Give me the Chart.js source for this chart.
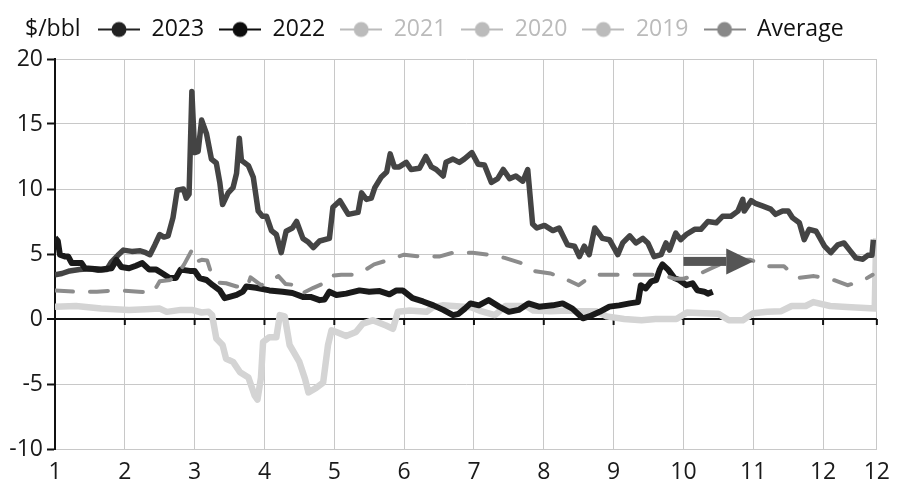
<!DOCTYPE html>
<html>
<head>
<meta charset="utf-8">
<script src="https://cdn.jsdelivr.net/npm/chart.js@4.4.1/dist/chart.umd.min.js"></script>
<style>
  html, body { margin: 0; padding: 0; background: #fff; }
</style>
</head>
<body>
<canvas id="spreadChart" width="900" height="490"></canvas>
<script>
// x positions are fractional months, 1 = start of January
const monthTicks = [1, 2, 3, 4, 5, 6, 7, 8, 9, 10, 11, 12, 12.77];

const seriesNames = ["2023", "2022", "2021", "2020", "2019", "Average"];

const m2023 = [1.00, 1.04, 1.07, 1.15, 1.19, 1.24, 1.38, 1.43, 1.66, 1.81, 1.88, 1.95, 2.06, 2.16, 2.25, 2.35, 2.45, 2.54, 2.64, 2.73,
  2.80, 2.93, 3.00, 3.07, 3.17, 3.26, 3.36, 3.43, 3.50, 3.60, 3.69, 3.74, 3.88, 4.07, 4.26, 4.40, 4.55, 4.66, 4.79, 4.86,
  4.93, 5.03, 5.17, 5.36, 5.50, 5.65, 5.79, 5.89, 5.98, 6.12, 6.27, 6.42, 6.56, 6.70, 6.78, 6.87, 6.95, 7.07, 7.21, 7.36,
  7.50, 7.64, 7.78, 7.93, 8.13, 8.27, 8.41, 8.56, 8.65, 8.80, 8.94, 9.08, 9.23, 9.35, 9.39, 9.46, 9.54, 9.61, 9.66, 9.70,
  9.78, 9.87, 9.94, 10.04, 10.13, 10.20, 10.30, 10.35, 10.42];
const v2023 = [6.25, 6.0, 4.95, 4.8, 4.8, 4.3, 4.3, 3.9, 3.8, 3.9, 4.55, 4.0, 3.9, 4.1, 4.3, 3.8, 3.8, 3.5, 3.15, 3.15,
  3.8, 3.7, 3.7, 3.15, 3.0, 2.6, 2.2, 1.6, 1.7, 1.85, 2.1, 2.5, 2.4, 2.2, 2.1, 2.0, 1.7, 1.7, 1.45, 1.5,
  2.1, 1.85, 1.95, 2.2, 2.1, 2.15, 1.9, 2.2, 2.2, 1.6, 1.35, 1.05, 0.7, 0.3, 0.4, 0.8, 1.2, 1.05, 1.45, 0.95,
  0.55, 0.7, 1.2, 0.95, 1.05, 1.2, 0.8, 0.05, 0.2, 0.55, 0.95, 1.05, 1.2, 1.3, 2.6, 2.35, 2.9, 3.0, 3.8, 4.2,
  3.8, 3.15, 3.0, 2.6, 2.75, 2.2, 2.1, 1.95, 2.1];

const m2022 = [1.00, 1.10, 1.21, 1.35, 1.50, 1.62, 1.74, 1.81, 1.90, 1.98, 2.10, 2.22, 2.30, 2.36, 2.43, 2.50, 2.56, 2.62, 2.69, 2.75,
  2.84, 2.88, 2.92, 2.96, 3.00, 3.05, 3.10, 3.17, 3.24, 3.31, 3.36, 3.40, 3.48, 3.55, 3.60, 3.64, 3.67, 3.77, 3.84, 3.91,
  3.97, 4.03, 4.10, 4.17, 4.24, 4.31, 4.40, 4.46, 4.55, 4.63, 4.70, 4.79, 4.93, 4.98, 5.08, 5.20, 5.34, 5.39, 5.46, 5.53,
  5.58, 5.67, 5.75, 5.80, 5.86, 5.93, 6.03, 6.10, 6.22, 6.31, 6.39, 6.46, 6.56, 6.60, 6.70, 6.79, 6.86, 6.97, 7.06, 7.15,
  7.25, 7.34, 7.42, 7.51, 7.60, 7.70, 7.77, 7.84, 7.90, 8.01, 8.13, 8.22, 8.34, 8.44, 8.51, 8.58, 8.65, 8.73, 8.80, 8.84,
  8.94, 9.06, 9.13, 9.23, 9.32, 9.42, 9.49, 9.58, 9.68, 9.75, 9.80, 9.89, 9.96, 10.04, 10.16, 10.25, 10.35, 10.47, 10.56, 10.68,
  10.78, 10.85, 10.87, 10.97, 11.03, 11.13, 11.25, 11.32, 11.42, 11.50, 11.56, 11.66, 11.73, 11.80, 11.90, 12.02, 12.11, 12.21, 12.30, 12.38,
  12.47, 12.57, 12.64, 12.70, 12.72];
const v2022 = [3.4, 3.5, 3.7, 3.8, 3.86, 3.75, 3.8, 4.4, 4.9, 5.3, 5.2, 5.25, 5.1, 4.95, 5.7, 6.5, 6.3, 6.4, 7.8, 9.9,
  10.0, 9.3, 9.6, 17.5, 12.8, 12.9, 15.3, 14.25, 12.3, 12.0, 10.5, 8.8, 9.7, 10.1, 11.2, 13.9, 12.2, 11.8, 10.9, 8.3,
  7.9, 7.9, 6.8, 6.5, 5.1, 6.75, 7.0, 7.5, 6.2, 5.9, 5.5, 6.0, 6.2, 8.6, 9.1, 8.05, 8.2, 9.7, 9.2, 9.3,
  10.1, 10.9, 11.3, 12.7, 11.7, 11.7, 12.05, 11.5, 11.6, 12.5, 11.7, 11.5, 11.0, 12.05, 12.3, 12.05, 12.3, 12.8, 11.9, 11.85,
  10.5, 10.8, 11.5, 10.8, 11.0, 10.6, 11.5, 7.3, 7.0, 7.2, 6.8, 7.0, 5.7, 5.6, 4.8, 5.6, 4.95, 7.0, 6.5, 6.2,
  6.1, 4.95, 5.85, 6.4, 5.85, 6.2, 5.85, 4.8, 4.95, 5.85, 5.3, 6.6, 6.1, 6.5, 6.9, 6.9, 7.5, 7.4, 7.9, 7.9,
  8.3, 9.2, 8.3, 9.1, 8.9, 8.7, 8.45, 8.05, 8.3, 8.3, 7.8, 7.4, 6.1, 6.9, 6.75, 5.6, 5.1, 5.7, 5.85, 5.3,
  4.7, 4.6, 4.9, 4.9, 6.1];

const m2020 = [1.00, 1.30, 1.66, 2.06, 2.30, 2.50, 2.60, 2.80, 2.96, 3.10, 3.20, 3.25, 3.31, 3.40, 3.45, 3.55, 3.65, 3.77, 3.86, 3.90,
  3.95, 3.98, 4.07, 4.17, 4.22, 4.29, 4.36, 4.50, 4.58, 4.63, 4.74, 4.84, 4.91, 4.96, 5.03, 5.17, 5.31, 5.41, 5.55, 5.74,
  5.84, 5.91, 6.08, 6.32, 6.41, 6.55, 6.70, 6.96, 7.10, 7.30, 7.45, 7.75, 7.85, 8.10, 8.33, 8.50, 8.75, 8.90, 9.15, 9.40,
  9.60, 9.90, 10.05, 10.30, 10.50, 10.65, 10.85, 11.00, 11.20, 11.40, 11.55, 11.75, 11.86, 12.10, 12.40, 12.74, 12.76];
const v2020 = [0.95, 1.0, 0.8, 0.7, 0.75, 0.8, 0.55, 0.7, 0.7, 0.5, 0.55, 0.3, -1.5, -2.0, -3.06, -3.3, -4.1, -4.5, -5.9, -6.2,
  -4.5, -1.77, -1.4, -1.4, 0.3, 0.2, -2.0, -3.3, -4.6, -5.65, -5.3, -4.9, -2.0, -0.87, -1.0, -1.3, -1.0, -0.35, -0.1, -0.5,
  -0.75, 0.55, 0.65, 0.55, 0.9, 1.05, 1.0, 0.9, 0.6, 0.3, 1.0, 1.0, 0.65, 0.6, 0.65, 0.6, 0.6, 0.2, 0.0, -0.1,
  0.0, 0.0, 0.5, 0.45, 0.4, -0.1, -0.1, 0.45, 0.55, 0.6, 1.0, 1.0, 1.3, 1.0, 0.9, 0.8, 6.2];

const mAvg = [1.00, 1.30, 1.60, 1.90, 2.20, 2.40, 2.50, 2.65, 2.75, 2.85, 2.96, 3.02, 3.10, 3.18, 3.25, 3.35, 3.45, 3.60, 3.75, 3.80,
  3.95, 4.10, 4.20, 4.30, 4.45, 4.55, 4.70, 4.85, 4.92, 5.10, 5.30, 5.45, 5.57, 5.78, 6.00, 6.23, 6.50, 6.70, 6.98, 7.20,
  7.44, 7.68, 7.85, 8.10, 8.30, 8.50, 8.65, 8.75, 8.96, 9.23, 9.47, 9.70, 9.87, 10.00, 10.20, 10.40, 10.60, 10.80, 10.96, 11.20,
  11.44, 11.63, 11.87, 12.10, 12.35, 12.55, 12.71];
const vAvg = [2.2, 2.1, 2.1, 2.2, 2.1, 2.0, 2.9, 3.0, 3.4, 4.2, 5.3, 4.4, 4.55, 4.5, 3.3, 2.8, 2.75, 2.5, 2.4, 3.2,
  2.6, 3.0, 3.3, 2.7, 2.6, 2.0, 2.4, 2.75, 3.3, 3.4, 3.4, 3.8, 4.2, 4.55, 4.95, 4.8, 4.8, 5.1, 5.1, 4.95,
  4.7, 4.3, 3.7, 3.5, 3.1, 2.6, 3.2, 3.4, 3.4, 3.4, 3.4, 3.4, 3.1, 3.1, 3.4, 3.9, 4.4, 4.55, 4.55, 4.05,
  4.05, 3.15, 3.3, 3.1, 2.6, 2.9, 3.4];

// annotation arrow, in axis units
const arrowFrom = [10.0, 4.43];
const arrowTo = [11.0, 4.43];

const legendTextColors = ["#111", "#111", "#bbb", "#bbb", "#bbb", "#111"];
const legendIconColors = ["#222", "#0d0d0d", "#bbb", "#bbb", "#bbb", "#888"];

function toPoints(ms, vs) {
  return ms.map((m, i) => ({ x: m, y: vs[i] }));
}

function makeIcon(color) {
  const c = document.createElement("canvas");
  c.width = 42;
  c.height = 18;
  const g = c.getContext("2d");
  g.strokeStyle = color;
  g.lineWidth = 2;
  g.beginPath();
  g.moveTo(0, 9);
  g.lineTo(42, 9);
  g.stroke();
  g.fillStyle = color;
  g.beginPath();
  g.arc(21, 9, 7.5, 0, Math.PI * 2);
  g.fill();
  return c;
}
const legendIcons = legendIconColors.map(makeIcon);

// unit label, zero-line ticks, arrow
const decor = {
  id: "decor",
  afterUpdate(chart) {
    const lg = chart.legend;
    lg.left += 78;
    lg.right += 78;
    lg.top -= 8;
    lg.bottom -= 8;
  },
  beforeDatasetsDraw(chart) {
    const { ctx, scales } = chart;
    const y0 = scales.y.getPixelForValue(0);
    ctx.save();
    ctx.strokeStyle = "#111";
    ctx.lineWidth = 2;
    monthTicks.forEach(m => {
      const x = scales.x.getPixelForValue(m);
      ctx.beginPath();
      ctx.moveTo(x, y0);
      ctx.lineTo(x, y0 + 6);
      ctx.stroke();
    });
    ctx.restore();
  },
  afterDatasetsDraw(chart) {
    const { ctx, scales } = chart;
    const x1 = scales.x.getPixelForValue(arrowFrom[0]);
    const x2 = scales.x.getPixelForValue(arrowTo[0]);
    const y = scales.y.getPixelForValue(arrowFrom[1]);
    const head = 27;
    ctx.save();
    ctx.fillStyle = "#555";
    ctx.fillRect(x1, y - 4.5, x2 - head - x1, 9);
    ctx.beginPath();
    ctx.moveTo(x2 - head, y - 13);
    ctx.lineTo(x2, y);
    ctx.lineTo(x2 - head, y + 13);
    ctx.closePath();
    ctx.fill();
    ctx.restore();
  },
  afterDraw(chart) {
    const { ctx } = chart;
    const lg = chart.legend;
    const y = lg.top + lg.options.labels.padding + 23 / 2;
    ctx.save();
    ctx.font = '23px "Open Sans"';
    ctx.fillStyle = "#111";
    ctx.textBaseline = "middle";
    ctx.textAlign = "left";
    ctx.fillText("$/bbl", 25, y);
    ctx.restore();
  }
};

Chart.defaults.font.family = '"Open Sans", sans-serif';
Chart.defaults.color = "#1a1a1a";

new Chart(document.getElementById("spreadChart"), {
  type: "line",
  data: {
    datasets: [
      {
        label: seriesNames[0],
        data: toPoints(m2023, v2023),
        borderColor: "#1a1a1a",
        borderWidth: 6,
        order: 1
      },
      {
        label: seriesNames[1],
        data: toPoints(m2022, v2022),
        borderColor: "#444",
        borderWidth: 5.5,
        order: 2
      },
      {
        label: seriesNames[2],
        data: [],
        borderColor: "#bbb",
        order: 4
      },
      {
        label: seriesNames[3],
        data: toPoints(m2020, v2020),
        borderColor: "#d4d4d4",
        borderWidth: 6.5,
        order: 3
      },
      {
        label: seriesNames[4],
        data: [],
        borderColor: "#bbb",
        order: 5
      },
      {
        label: seriesNames[5],
        data: toPoints(mAvg, vAvg),
        borderColor: "#8c8c8c",
        borderWidth: 4,
        borderDash: [18, 17],
        borderCapStyle: "round",
        order: 0
      }
    ]
  },
  options: {
    responsive: false,
    animation: false,
    layout: {
      padding: { left: 5, right: 22, top: 11, bottom: 0 }
    },
    elements: {
      point: { radius: 0 },
      line: { tension: 0, borderJoinStyle: "round", fill: false }
    },
    plugins: {
      tooltip: { enabled: false },
      legend: {
        position: "top",
        align: "start",
        labels: {
          usePointStyle: true,
          pointStyleWidth: 42,
          padding: 15,
          font: { size: 23 },
          generateLabels: chart => chart.data.datasets.map((ds, i) => ({
            text: ds.label,
            fontColor: legendTextColors[i],
            pointStyle: legendIcons[i],
            hidden: false,
            datasetIndex: i,
            lineWidth: 0,
            strokeStyle: "rgba(0,0,0,0)",
            fillStyle: "rgba(0,0,0,0)"
          }))
        }
      }
    },
    scales: {
      x: {
        type: "linear",
        min: 1,
        max: 12.77,
        afterBuildTicks: scale => {
          scale.ticks = monthTicks.map(v => ({ value: v }));
        },
        afterFit: scale => {
          scale.height = 41;
        },
        grid: {
          color: "#c8c8c8",
          lineWidth: 1,
          drawTicks: false
        },
        border: { display: true, color: "#c8c8c8", width: 1 },
        ticks: {
          autoSkip: false,
          maxRotation: 0,
          padding: 10,
          font: { size: 23 },
          color: "#1a1a1a",
          callback: v => String(Math.floor(v))
        }
      },
      y: {
        min: -10,
        max: 20,
        afterFit: scale => {
          scale.width = 50;
        },
        grid: {
          color: c => (c.tick && c.tick.value === 0 ? "#111" : "#c8c8c8"),
          lineWidth: c => (c.tick && c.tick.value === 0 ? 2 : 1),
          tickColor: "#111",
          tickLength: 8,
          tickWidth: 2
        },
        border: { display: true, color: "#111", width: 2 },
        ticks: {
          stepSize: 5,
          padding: 4,
          font: { size: 23 },
          color: "#1a1a1a"
        }
      }
    }
  },
  plugins: [decor]
});
</script>
</body>
</html>
